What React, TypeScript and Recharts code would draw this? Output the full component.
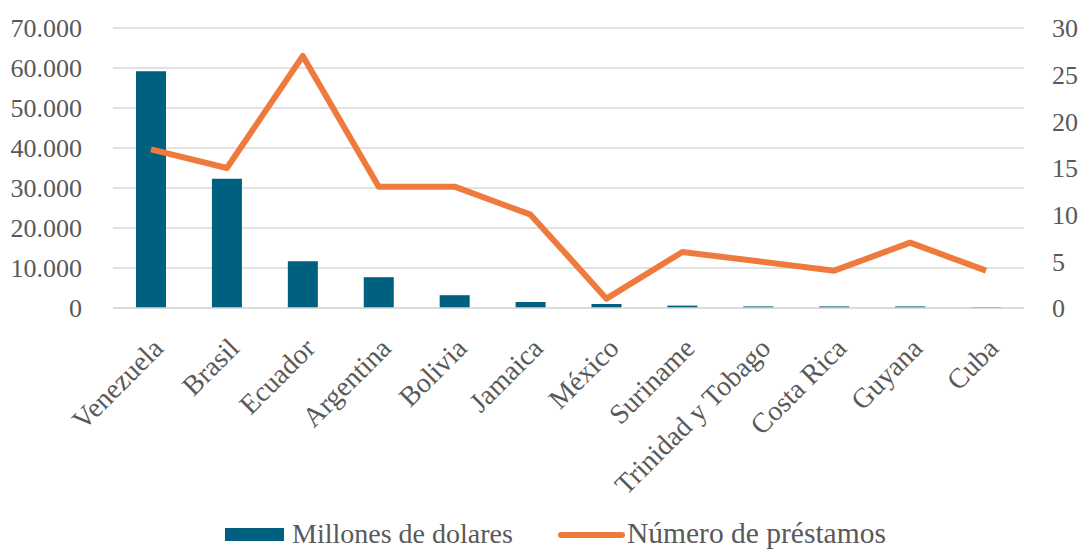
import React from 'react';
import { ComposedChart, Bar, Line, XAxis, YAxis, CartesianGrid, Legend } from 'recharts';

const paises = ['Venezuela', 'Brasil', 'Ecuador', 'Argentina', 'Bolivia', 'Jamaica', 'México', 'Suriname', 'Trinidad y Tobago', 'Costa Rica', 'Guyana', 'Cuba'];
const millones = [59200, 32300, 11700, 7700, 3200, 1500, 1000, 600, 400, 400, 400, 200];
const prestamos = [17, 15, 27, 13, 13, 10, 1, 6, 5, 4, 7, 4];
const ticksIzq = [0, 10000, 20000, 30000, 40000, 50000, 60000, 70000];
const ticksDer = [0, 5, 10, 15, 20, 25, 30];

const data = paises.map((p, i) => ({ pais: p, millones: millones[i], prestamos: prestamos[i] }));

const FONT = '"Liberation Serif", "DejaVu Serif", serif';
const GRIS = '#595959';
const AZUL = '#00607f';
const NARANJA = '#ef7a3d';

const fmtMiles = (v: number) => (v === 0 ? '0' : v.toString().replace(/\B(?=(\d{3})+(?!\d))/g, '.'));

const CategoryTick = (props: any) => {
  const { x, y, payload } = props;
  return (
    <g transform={`translate(${x + 7},${y + 27})`}>
      <text transform="rotate(-45)" textAnchor="end" dy="0.35em" fill={GRIS} fontSize={28} fontFamily={FONT}>
        {payload.value}
      </text>
    </g>
  );
};

// leyenda a mano para clavar tamaños y posiciones
const LegendBox = () => (
  <div style={{ position: 'relative', height: 40, fontFamily: FONT, fontSize: 28, color: GRIS }}>
    <span style={{ position: 'absolute', left: 225, top: 14, width: 59, height: 13, background: AZUL }} />
    <span style={{ position: 'absolute', left: 292, top: 4, lineHeight: '32px', whiteSpace: 'nowrap' }}>Millones de dolares</span>
    <span style={{ position: 'absolute', left: 558, top: 18, width: 67, height: 6, borderRadius: 3, background: NARANJA }} />
    <span style={{ position: 'absolute', left: 627, top: 3, lineHeight: '32px', fontSize: 29.5, whiteSpace: 'nowrap' }}>Número de préstamos</span>
  </div>
);

const App: React.FC = () => {
  return (
    <div style={{ position: 'absolute', left: 0, top: 0, width: 1079, height: 554, background: '#fff' }}>
      <ComposedChart width={1079} height={554} data={data} margin={{ top: 28, right: 0, left: 0, bottom: 0 }}>
        <CartesianGrid vertical={false} stroke="#d9d9d9" strokeWidth={1.5} yAxisId="izq" />
        <XAxis dataKey="pais" interval={0} height={206} tick={<CategoryTick />} tickLine={false} axisLine={{ stroke: '#d9d9d9', strokeWidth: 1.5 }} />
        <YAxis
          yAxisId="izq"
          domain={[0, 70000]}
          ticks={ticksIzq}
          tickFormatter={fmtMiles}
          width={113}
          axisLine={false}
          tickLine={false}
          tick={{ fill: GRIS, fontSize: 26, fontFamily: FONT }}
          tickMargin={25}
        />
        <YAxis
          yAxisId="der"
          orientation="right"
          domain={[0, 30]}
          ticks={ticksDer}
          width={55}
          axisLine={false}
          tickLine={false}
          tick={{ fill: GRIS, fontSize: 26, fontFamily: FONT, textAnchor: 'start' }}
          tickMargin={22}
        />
        <Bar yAxisId="izq" dataKey="millones" name="Millones de dolares" fill={AZUL} barSize={30} isAnimationActive={false} />
        <Line yAxisId="der" dataKey="prestamos" name="Número de préstamos" stroke={NARANJA} strokeWidth={6} dot={false} activeDot={false} strokeLinejoin="round" isAnimationActive={false} />
        <Legend verticalAlign="bottom" height={40} content={<LegendBox />} />
      </ComposedChart>
    </div>
  );
};

export default App;
